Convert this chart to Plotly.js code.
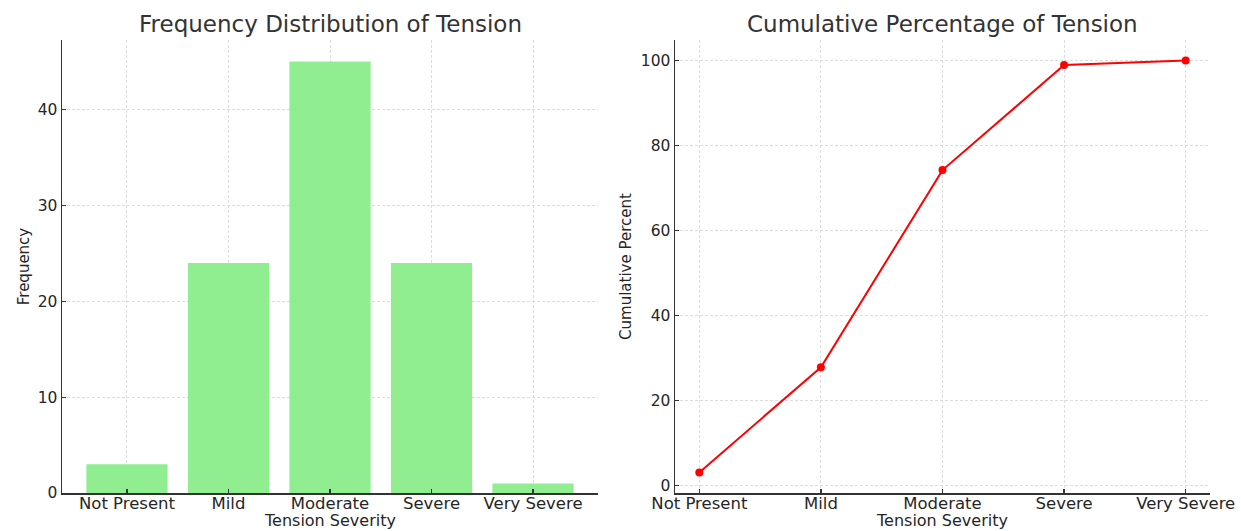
<!DOCTYPE html>
<html>
<head>
<meta charset="utf-8">
<script src="https://cdn.plot.ly/plotly-3.0.1.min.js"></script>
<style>html,body{margin:0;padding:0;background:#fff}#chart{width:1241px;height:531px}</style>
</head>
<body>
<div id="chart"></div>
<script>
const categories = ["Not Present", "Mild", "Moderate", "Severe", "Very Severe"];
const frequency = [3, 24, 45, 24, 1];
const cumulativePercent = [3.09, 27.84, 74.23, 98.97, 100];
const xTitle = "Tension Severity";

const W = 1241, H = 531;
const fx = px => px / W;
const fy = py => (H - py) / H;

const FAM = "DejaVu Sans, sans-serif";
const TXT = "#262626";

function xAxis(domain, anchor, range) {
  return {
    domain: domain, anchor: anchor, type: "category", range: range,
    showline: true, linecolor: "#333", linewidth: 1.5,
    ticks: "inside", ticklen: 4, tickcolor: "#333", tickwidth: 1.2,
    ticklabelstandoff: -5,
    showgrid: true, gridcolor: "#dcdcdc", griddash: "3px,2px", gridwidth: 1,
    tickfont: {family: FAM, size: 16.5, color: TXT},
    zeroline: false, automargin: false, fixedrange: true
  };
}
function yAxis(domain, anchor, range, dtick, titleText, standoff) {
  return {
    domain: domain, anchor: anchor, range: range, dtick: dtick,
    showline: true, linecolor: "#333", linewidth: 1.5,
    ticks: "inside", ticklen: 4, tickcolor: "#333", tickwidth: 1.2,
    showgrid: true, gridcolor: "#dcdcdc", griddash: "3px,2px", gridwidth: 1,
    tickfont: {family: FAM, size: 15.5, color: TXT},
    title: {text: titleText, font: {family: FAM, size: 15, color: TXT}, standoff: standoff},
    zeroline: false, automargin: false, fixedrange: true
  };
}

const data = [
  {type: "bar", x: categories, y: frequency, xaxis: "x", yaxis: "y",
   marker: {color: "#90EE90"}, width: 0.8, hoverinfo: "x+y"},
  {type: "scatter", mode: "lines+markers", x: categories, y: cumulativePercent,
   xaxis: "x2", yaxis: "y2", line: {color: "#ff0000", width: 2},
   marker: {color: "#ff0000", size: 8}}
];

const layout = {
  width: W, height: H,
  margin: {l: 0, r: 0, t: 0, b: 0},
  paper_bgcolor: "#fff", plot_bgcolor: "#fff",
  showlegend: false,
  xaxis: xAxis([fx(62), fx(598)], "y", [-0.64, 4.64]),
  yaxis: yAxis([fy(493), fy(40)], "x", [0, 47.25], 10, "Frequency", 4),
  xaxis2: xAxis([fx(675), fx(1210)], "y2", [-0.2, 4.2]),
  yaxis2: yAxis([fy(493), fy(40)], "x2", [-1.76, 104.85], 20, "Cumulative Percent", 5),
  annotations: [
    {text: "Frequency Distribution of Tension", xref: "paper", yref: "paper",
     x: fx(330), y: fy(24), xanchor: "center", yanchor: "middle", showarrow: false,
     font: {family: FAM, size: 23, color: "#333"}},
    {text: "Cumulative Percentage of Tension", xref: "paper", yref: "paper",
     x: fx(942), y: fy(24), xanchor: "center", yanchor: "middle", showarrow: false,
     font: {family: FAM, size: 23, color: "#333"}},
    {text: xTitle, xref: "paper", yref: "paper",
     x: fx(330), y: 0, xanchor: "center", yanchor: "bottom", showarrow: false,
     font: {family: FAM, size: 16, color: TXT}, borderpad: 0},
    {text: xTitle, xref: "paper", yref: "paper",
     x: fx(942), y: 0, xanchor: "center", yanchor: "bottom", showarrow: false,
     font: {family: FAM, size: 16, color: TXT}, borderpad: 0}
  ]
};

Plotly.newPlot("chart", data, layout, {displayModeBar: false, staticPlot: true});
</script>
</body>
</html>
